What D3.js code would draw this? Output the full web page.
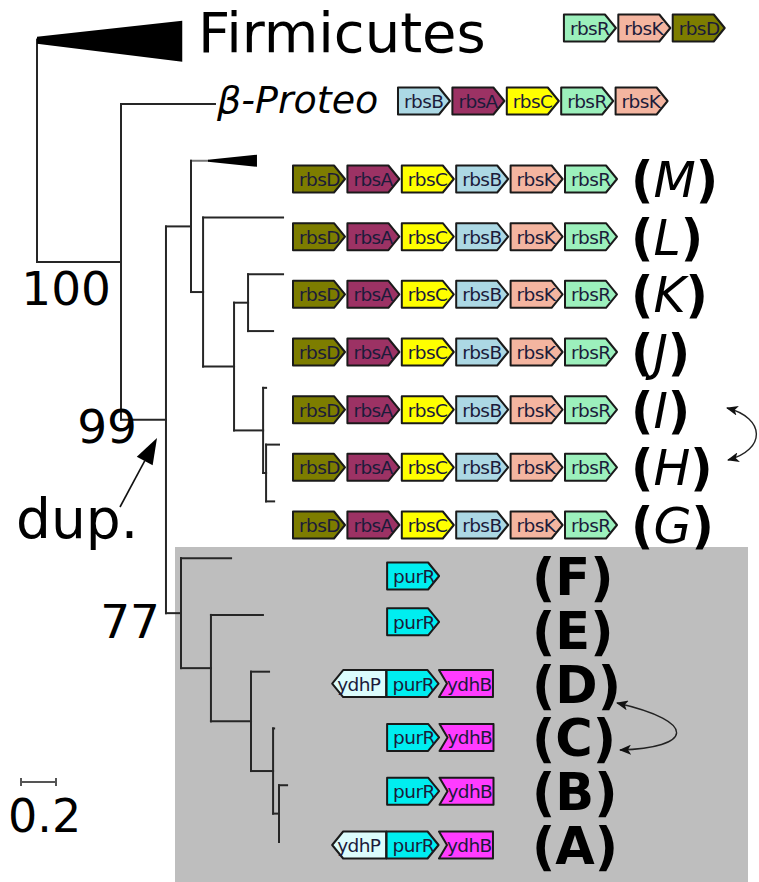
<!DOCTYPE html>
<html>
<head>
<meta charset="utf-8">
<script src="https://cdn.jsdelivr.net/npm/d3@7/dist/d3.min.js"></script>
<style>
  html, body { margin: 0; padding: 0; background: #fff; }
  svg { display: block; font-family: "DejaVu Sans", sans-serif; }
</style>
</head>
<body>
<div id="chart"></div>
<script>
// tree topology: [node, parent, branch length]
const treeNodes = [
  ["root", null, 0],
  ["Firmicutes", "root", 0],
  ["n1", "root", 0.48],
  ["beta", "n1", 0.537],
  ["n2", "n1", 0.257],
  ["n3", "n2", 0.143],
  ["M", "n3", 0.097],
  ["n4", "n3", 0.069],
  ["L", "n4", 0.457],
  ["n5", "n4", 0.177],
  ["n6", "n5", 0.08],
  ["K", "n6", 0.2],
  ["J", "n6", 0.143],
  ["n7", "n5", 0.166],
  ["I", "n7", 0.017],
  ["n8", "n7", 0.017],
  ["H", "n8", 0.074],
  ["G", "n8", 0.046],
  ["np", "n2", 0.086],
  ["F", "np", 0.286],
  ["n9", "np", 0.171],
  ["E", "n9", 0.297],
  ["n10", "n9", 0.229],
  ["D", "n10", 0.103],
  ["n11", "n10", 0.126],
  ["C", "n11", 0.006],
  ["n12", "n11", 0.034],
  ["B", "n12", 0.046],
  ["A", "n12", 0.0],
];

// collapsed clades and their depth
const collapsed = [["Firmicutes", 0.83], ["M", 0.28]];

// bootstrap support
const support = [["n1", "100"], ["n2", "99"], ["np", "77"]];

const scaleBar = 0.2;

// gene neighbourhoods
const rbsOperon = ["rbsD", "rbsA", "rbsC", "rbsB", "rbsK", "rbsR"];
const outgroupRows = [
  ["Firmicutes", ["rbsR", "rbsK", "rbsD"]],
  ["β-Proteo", ["rbsB", "rbsA", "rbsC", "rbsR", "rbsK"]],
];
const rbsRows = ["M", "L", "K", "J", "I", "H", "G"];
const purRows = [
  ["F", ["purR"]],
  ["E", ["purR"]],
  ["D", ["ydhP", "purR", "ydhB"]],
  ["C", ["purR", "ydhB"]],
  ["B", ["purR", "ydhB"]],
  ["A", ["ydhP", "purR", "ydhB"]],
];

const geneColors = {
  rbsD: "#7d7d00", rbsA: "#9c3264", rbsC: "#ffff00", rbsB: "#acd8e4",
  rbsK: "#f4b5a0", rbsR: "#9cf0bc", purR: "#00eef0", ydhB: "#ff3cff", ydhP: "#dcfcfc",
};

const W = 759, H = 882;
const svg = d3.select("#chart").append("svg").attr("width", W).attr("height", H);

// shaded purR group
svg.append("rect").attr("x", 175).attr("y", 547).attr("width", 573).attr("height", H - 547)
  .attr("fill", "#bebebe");

// ---- tree ----
const root = d3.stratify().id(d => d[0]).parentId(d => d[1])(treeNodes);
root.eachBefore(n => n.len = n.parent ? n.parent.len + n.data[2] : 0);

const x = d3.scaleLinear().domain([0, 1]).range([37, 212]);
const leaves = root.leaves();
const yLeaf = d3.scalePoint().domain(leaves.slice(1).map(d => d.id)).range([104, 842]);
leaves.forEach(l => l.y = l.id === "Firmicutes" ? yLeaf("beta") - yLeaf.step() * 1.13 : yLeaf(l.id));
root.eachAfter(n => { if (n.children) n.y = (n.children[0].y + n.children[n.children.length - 1].y) / 2; });

const tree = svg.append("g").attr("stroke", "#262626").attr("stroke-width", 2).attr("fill", "none")
  .attr("stroke-linecap", "square");

tree.selectAll("path.h")
  .data(root.descendants().filter(n => n.parent))
  .join("path")
  .attr("class", "h")
  .attr("stroke", d => d.id === "M" ? "#777" : null)
  .attr("d", d => `M${x(d.parent.len)},${d.y}H${x(d.len)}`);

tree.selectAll("path.v")
  .data(root.descendants().filter(n => n.children))
  .join("path")
  .attr("class", "v")
  .attr("d", d => `M${x(d.len)},${d.children[0].y}V${d.children[d.children.length - 1].y}`);

const cladeSpread = { Firmicutes: [3, -19, 22, 4], M: [1, -6, 6, 1] };
svg.append("g").selectAll("path")
  .data(collapsed)
  .join("path")
  .attr("fill", "#000")
  .attr("d", ([id, depth]) => {
    const n = root.find(d => d.id === id);
    const s = cladeSpread[id];
    const x0 = x(n.len), x1 = x(n.len + depth);
    return `M${x0},${n.y - s[0]}L${x1},${n.y + s[1]}L${x1},${n.y + s[2]}L${x0},${n.y + s[3]}Z`;
  });

// support values
const supportOffset = { n1: [-10, 43], n2: [-29, 23], np: [-21, 25] };
svg.append("g").selectAll("text")
  .data(support)
  .join("text")
  .attr("text-anchor", "end")
  .attr("font-size", 47)
  .attr("fill", "#000")
  .attr("x", ([id]) => x(root.find(d => d.id === id).len) + supportOffset[id][0])
  .attr("y", ([id]) => root.find(d => d.id === id).y + supportOffset[id][1])
  .text(d => d[1]);

// outgroup names
const firm = root.find(d => d.id === "Firmicutes");
svg.append("text").attr("x", 198).attr("y", firm.y + 12).attr("font-size", 56).text("Firmicutes");
const beta = root.find(d => d.id === "beta");
svg.append("text").attr("x", 217).attr("y", beta.y + 9).attr("font-size", 38)
  .attr("font-style", "italic").text("β-Proteo");

// duplication arrow
svg.append("text").attr("x", 16).attr("y", 538).attr("font-size", 55).text("dup.");
(() => {
  const x0 = 120, y0 = 507, x1 = 157, y1 = 438;
  const a = Math.atan2(y1 - y0, x1 - x0), len = 26, half = 9;
  const bx = x1 - len * Math.cos(a), by = y1 - len * Math.sin(a);
  svg.append("line").attr("x1", x0).attr("y1", y0).attr("x2", bx).attr("y2", by)
    .attr("stroke", "#111").attr("stroke-width", 1.6);
  svg.append("path").attr("fill", "#000")
    .attr("d", `M${x1},${y1}L${bx - half * Math.sin(a)},${by + half * Math.cos(a)}L${bx + half * Math.sin(a)},${by - half * Math.cos(a)}Z`);
})();

// scale bar
const sb = svg.append("g").attr("stroke", "#555").attr("stroke-width", 2);
sb.append("path").attr("d", `M${x(0) - 16},782H${x(scaleBar) - 16}M${x(0) - 16},778V786M${x(scaleBar) - 16},778V786`);
svg.append("text").attr("x", 8).attr("y", 832).attr("font-size", 46).text(scaleBar);

// ---- gene arrows ----
const slot = d3.scaleLinear().domain([0, 1]).range([293, 347.4]);
const geneH = 27, tip = 11, geneW = 52;

function geneShape(g, x0, yc) {
  const t = yc - geneH / 2, b = yc + geneH / 2, x1 = x0 + geneW;
  if (g === "ydhP") return `M${x0},${yc}L${x0 + tip},${t}H${x1 + 2}V${b}H${x0 + tip}Z`;
  if (g === "ydhB") return `M${x0 - 2},${t}H${x1}V${b}H${x0 - 2}L${x0 + 6},${yc}Z`;
  return `M${x0},${t}H${x1 - tip}L${x1},${yc}L${x1 - tip},${b}H${x0}Z`;
}

function drawRow(genes, start, yc) {
  const g = svg.append("g");
  genes.forEach((name, i) => {
    const gx = slot(start + i);
    g.append("path").attr("d", geneShape(name, gx, yc))
      .attr("fill", geneColors[name]).attr("stroke", "#1a1a1a").attr("stroke-width", 2)
      .attr("stroke-linejoin", "round");
    g.append("text").attr("x", gx + (name === "ydhP" ? 5 : 6)).attr("y", yc + 7)
      .attr("font-size", 18.5).attr("fill", "#1b1b3a").attr("letter-spacing", -0.6).text(name);
  });
}

const rowStart = { "Firmicutes": 4.98, "β-Proteo": 1.93 };
const rowY = { "Firmicutes": 28, "β-Proteo": 101 };
outgroupRows.forEach(([r, genes]) => drawRow(genes, rowStart[r], rowY[r]));

const yRow = d3.scalePoint().domain(rbsRows).range([179, 525]);
const yPur = d3.scalePoint().domain(purRows.map(d => d[0])).range([576, 845]);

rbsRows.forEach(r => drawRow(rbsOperon, 0, yRow(r)));
purRows.forEach(([r, genes]) => drawRow(genes, genes[0] === "ydhP" ? 0.72 : 1.73, r === "E" ? yPur(r) - 8 : yPur(r)));

// clade letters
const lab = svg.append("g").attr("fill", "#000");
rbsRows.forEach(r => {
  const t = lab.append("text").attr("x", 631).attr("y", yRow(r) + 18).attr("font-size", 49);
  t.append("tspan").attr("font-weight", "bold").text("(");
  t.append("tspan").attr("font-style", "italic").text(r);
  t.append("tspan").attr("font-weight", "bold").text(")");
});
purRows.forEach(([r]) => {
  lab.append("text").attr("x", 532).attr("y", yPur(r) + 19).attr("font-size", 51)
    .attr("font-weight", "bold").text(`(${r})`);
});

// swap arrows
svg.append("defs").append("marker")
  .attr("id", "head").attr("viewBox", "0 0 12 10").attr("refX", 11).attr("refY", 5)
  .attr("markerWidth", 12).attr("markerHeight", 10).attr("markerUnits", "userSpaceOnUse")
  .attr("orient", "auto-start-reverse")
  .append("path").attr("d", "M0,0L12,5L0,10L3,5Z").attr("fill", "#111");

const swaps = [
  [[727, 408], [766, 418], [766, 450], [728, 460]],
  [[617, 703], [700, 722], [692, 748], [620, 750]],
];
svg.append("g").selectAll("path")
  .data(swaps)
  .join("path")
  .attr("fill", "none").attr("stroke", "#222").attr("stroke-width", 1.4)
  .attr("marker-start", "url(#head)").attr("marker-end", "url(#head)")
  .attr("d", p => `M${p[0]}C${p[1]} ${p[2]} ${p[3]}`);
</script>
</body>
</html>
